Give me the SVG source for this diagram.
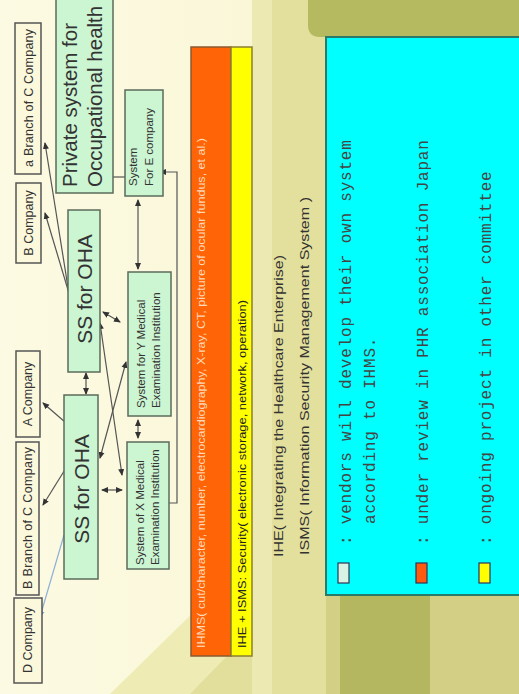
<svg xmlns="http://www.w3.org/2000/svg" width="519" height="694" viewBox="0 0 519 694">
<style>
.bg{stroke:none}
.co rect{fill:#fbf8dc;stroke:#555;stroke-width:1.5}
.gn rect{fill:#ccf5d2;stroke:#5b6b5b;stroke-width:1.5}
.t{font-family:"Liberation Sans",Arial,sans-serif;fill:#333}
.m{font-family:"Liberation Mono","Courier New",monospace;fill:#444;font-size:16px;letter-spacing:0.8px}
.ln{fill:none;stroke:#555;stroke-width:1.2}
</style>
<defs>
<marker id="ah" markerUnits="userSpaceOnUse" markerWidth="7" markerHeight="7" refX="6" refY="3.5" orient="auto-start-reverse">
<path d="M0,0.5 L7,3.5 L0,6.5 z" fill="#333"/>
</marker>
<marker id="ahb" markerUnits="userSpaceOnUse" markerWidth="7" markerHeight="7" refX="6" refY="3.5" orient="auto-start-reverse">
<path d="M0,0.5 L7,3.5 L0,6.5 z" fill="#7f9fd0"/>
</marker>
<linearGradient id="cream" x1="0" y1="0" x2="1" y2="0">
<stop offset="0" stop-color="#fcfae2"/>
<stop offset="1" stop-color="#f8f4cf"/>
</linearGradient>
</defs>
<g id="background">
<rect class="bg" x="0" y="0" width="519" height="694" fill="url(#cream)"/>
<polygon class="bg" points="110,694 262,545 262,694" fill="#eeecb4"/>
<polygon class="bg" points="190,694 262,620 262,694" fill="#e2df9c"/>
<rect class="bg" x="252" y="0" width="74" height="694" fill="#e3df9c"/>
<rect class="bg" x="252" y="0" width="20" height="694" fill="#ece9b2"/>
<path class="bg" d="M308,0 L519,0 L519,37 L320,37 Q308,37 308,25 z" fill="#b5b960"/>
<rect class="bg" x="326" y="595" width="193" height="99" fill="#d3cf84"/>
<rect class="bg" x="340" y="595" width="90" height="99" fill="#b4b75f"/>
</g>
<g id="connectors">
<line class="ln" x1="70" y1="300" x2="45" y2="143" marker-end="url(#ah)"/>
<line class="ln" x1="74" y1="310" x2="45" y2="213" marker-end="url(#ah)"/>
<line class="ln" x1="86" y1="373" x2="86" y2="394" marker-start="url(#ah)" marker-end="url(#ah)"/>
<line class="ln" x1="65" y1="422" x2="43" y2="403" marker-end="url(#ah)"/>
<line class="ln" x1="66" y1="468" x2="43" y2="505" marker-end="url(#ah)"/>
<line x1="64" y1="535" x2="40" y2="617" stroke="#8fb0d8" stroke-width="1.2" marker-end="url(#ahb)"/>
<line class="ln" x1="102" y1="490" x2="122" y2="490" marker-start="url(#ah)" marker-end="url(#ah)"/>
<line class="ln" x1="138" y1="420" x2="138" y2="438" marker-start="url(#ah)" marker-end="url(#ah)"/>
<line class="ln" x1="100" y1="458" x2="126" y2="362" marker-start="url(#ah)" marker-end="url(#ah)"/>
<line class="ln" x1="100" y1="323" x2="122" y2="475" marker-start="url(#ah)" marker-end="url(#ah)"/>
<line class="ln" x1="103" y1="312" x2="120" y2="322" marker-start="url(#ah)" marker-end="url(#ah)"/>
<line class="ln" x1="138" y1="200" x2="138" y2="269" marker-start="url(#ah)" marker-end="url(#ah)"/>
<line class="ln" x1="113" y1="177" x2="125" y2="177"/>
<polyline class="ln" points="169,503 177,503 177,172 160,172" marker-end="url(#ah)"/>
</g>
<g id="n_abranchC" class="co">
<rect x="15" y="23" width="26" height="151"/>
<text class="t" font-size="12.5" text-anchor="middle" textLength="138" transform="translate(33,98) rotate(-90)">a Branch of  C Company</text>
</g>
<g id="n_private" class="gn">
<rect x="56" y="-3" width="57" height="196"/>
<text class="t" font-size="20.5" transform="translate(77,187) rotate(-90)">Private system for</text>
<text class="t" font-size="20.5" transform="translate(102,187) rotate(-90)">Occupational health</text>
</g>
<g id="n_bcompany" class="co">
<rect x="16" y="183" width="25" height="80"/>
<text class="t" font-size="12.5" text-anchor="middle" transform="translate(33,223) rotate(-90)">B Company</text>
</g>
<g id="n_ecompany" class="gn">
<rect x="125" y="90" width="38" height="106"/>
<text class="t" font-size="11.5" transform="translate(137,186) rotate(-90)">System</text>
<text class="t" font-size="11.5" transform="translate(153,186) rotate(-90)">For E company</text>
</g>
<g id="n_ss1" class="gn">
<rect x="68" y="210" width="32" height="162"/>
<text class="t" font-size="21" text-anchor="middle" transform="translate(92,289) rotate(-90)">SS for OHA</text>
</g>
<g id="n_ymed" class="gn">
<rect x="128" y="272" width="43" height="144"/>
<text class="t" font-size="11.5" transform="translate(145,408) rotate(-90)">System for  Y Medical</text>
<text class="t" font-size="11.5" transform="translate(160,408) rotate(-90)">Examination Institution</text>
</g>
<g id="n_acompany" class="co">
<rect x="16" y="351" width="24" height="86"/>
<text class="t" font-size="12.5" text-anchor="middle" transform="translate(32,394) rotate(-90)">A Company</text>
</g>
<g id="n_ss2" class="gn">
<rect x="64" y="395" width="34" height="184"/>
<text class="t" font-size="21" text-anchor="middle" transform="translate(89,489) rotate(-90)">SS for OHA</text>
</g>
<g id="n_xmed" class="gn">
<rect x="127" y="442" width="42" height="127"/>
<text class="t" font-size="11.5" transform="translate(144,565) rotate(-90)">System of X Medical</text>
<text class="t" font-size="11.5" transform="translate(159,565) rotate(-90)">Examination Institution</text>
</g>
<g id="n_bbranchC" class="co">
<rect x="16" y="442" width="23" height="153"/>
<text class="t" font-size="12.5" text-anchor="middle" textLength="142" transform="translate(32,518) rotate(-90)">B Branch of C Company</text>
</g>
<g id="n_dcompany" class="co">
<rect x="14" y="598" width="28" height="85"/>
<text class="t" font-size="12.5" text-anchor="middle" transform="translate(32,640) rotate(-90)">D Company</text>
</g>
<g id="n_ihms">
<rect x="191" y="47" width="40" height="609" fill="#ff6406" stroke="#8a5a30" stroke-width="1.5"/>
<text class="t" font-size="11.5" style="fill:#ffd9b8" textLength="510" lengthAdjust="spacingAndGlyphs" transform="translate(205,648) rotate(-90)">IHMS( cut/character, number, electrocardiography, X-ray, CT, picture of ocular fundus, et al.)</text>
</g>
<g id="n_ihe">
<rect x="231" y="47" width="21" height="609" fill="#ffff00" stroke="#8a8030" stroke-width="1.5"/>
<text class="t" font-size="11.5" style="fill:#222" textLength="348" lengthAdjust="spacingAndGlyphs" transform="translate(246,648) rotate(-90)">IHE   + ISMS: Security( electronic storage, network, operation)</text>
</g>
<g id="n_abbrev">
<text class="t" font-size="13.5" textLength="302" lengthAdjust="spacingAndGlyphs" transform="translate(283,557) rotate(-90)">IHE( Integrating the Healthcare Enterprise)</text>
<text class="t" font-size="13.5" textLength="358" lengthAdjust="spacingAndGlyphs" transform="translate(309,555) rotate(-90)">ISMS( Information Security Management System )</text>
</g>
<g id="n_legend">
<rect x="326" y="37" width="195" height="558" fill="#00ffff" stroke="#2a7a6a" stroke-width="2"/>
<rect x="338" y="563" width="11" height="20" fill="#d8f2e4" stroke="#335" stroke-width="1.2"/>
<rect x="416" y="563" width="11" height="20" fill="#ff5a10" stroke="#335" stroke-width="1.2"/>
<rect x="479" y="563" width="11" height="20" fill="#ffff00" stroke="#335" stroke-width="1.2"/>
<text class="m" transform="translate(351,545) rotate(-90)">: vendors will develop their own system</text>
<text class="m" transform="translate(375,524) rotate(-90)">according to IHMS.</text>
<text class="m" transform="translate(428,545) rotate(-90)">: under review in PHR association Japan</text>
<text class="m" transform="translate(491,545) rotate(-90)">: ongoing project in other committee</text>
</g>
</svg>
